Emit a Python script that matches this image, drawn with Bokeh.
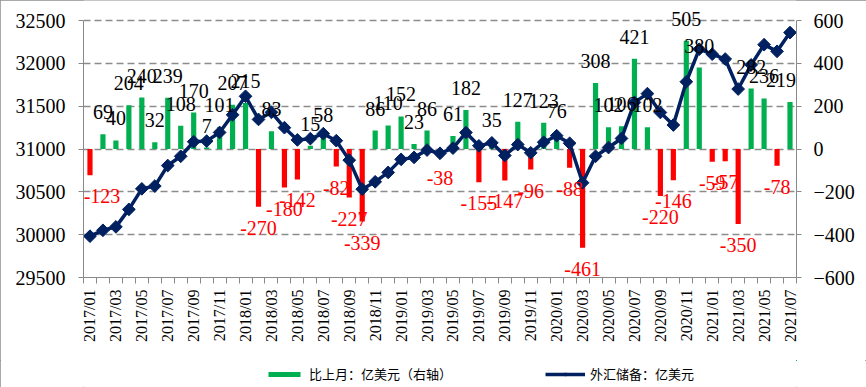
import math
from bokeh.plotting import figure
from bokeh.layouts import column
from bokeh.models import (ColumnDataSource, Range1d, LinearAxis, FixedTicker,
                          CustomJSTickFormatter, LabelSet, Legend, LegendItem)
from bokeh.core.properties import value
from bokeh.embed import file_html
from bokeh.resources import INLINE

months = [
    "2017/01", "2017/02", "2017/03", "2017/04", "2017/05", "2017/06",
    "2017/07", "2017/08", "2017/09", "2017/10", "2017/11", "2017/12",
    "2018/01", "2018/02", "2018/03", "2018/04", "2018/05", "2018/06",
    "2018/07", "2018/08", "2018/09", "2018/10", "2018/11", "2018/12",
    "2019/01", "2019/02", "2019/03", "2019/04", "2019/05", "2019/06",
    "2019/07", "2019/08", "2019/09", "2019/10", "2019/11", "2019/12",
    "2020/01", "2020/02", "2020/03", "2020/04", "2020/05", "2020/06",
    "2020/07", "2020/08", "2020/09", "2020/10", "2020/11", "2020/12",
    "2021/01", "2021/02", "2021/03", "2021/04", "2021/05", "2021/06",
    "2021/07",
]

# 比上月：亿美元（右轴）
change = [
    -123, 69, 40, 204, 240, 32, 239, 108, 170, 7, 101, 207,
    215, -270, 83, -180, -142, 15, 58, -82, -227, -339, 86, 110,
    152, 23, 86, -38, 61, 182, -155, 35, -147, 127, -96, 123,
    76, -88, -461, 308, 102, 106, 421, 102, -220, -146, 505, 380,
    -59, -57, -350, 282, 236, -78, 219,
]

# 外汇储备：亿美元
reserves = [
    29982, 30051, 30091, 30295, 30535, 30567, 30807, 30915, 31085, 31092, 31193, 31399,
    31615, 31345, 31428, 31249, 31106, 31121, 31179, 31097, 30870, 30531, 30617, 30727,
    30879, 30902, 30988, 30950, 31010, 31192, 31037, 31072, 30924, 31052, 30956, 31079,
    31155, 31067, 30606, 30915, 31017, 31123, 31544, 31646, 31426, 31280, 31785, 32165,
    32107, 32050, 31700, 31982, 32218, 32140, 32359,
]

left_ticks = [29500, 30000, 30500, 31000, 31500, 32000, 32500]
right_ticks = [-600, -400, -200, 0, 200, 400, 600]

GREEN = "#00B050"
RED = "#FF0000"
NAVY = "#002060"
AXIS_GRAY = "#898989"

# layout in pixels
FRAME_TOP_PAD = 20      # px of free space above the top gridline (inside frame)
AXIS_SPAN = 257         # px between top and bottom gridline
pad_frac = FRAME_TOP_PAD / AXIS_SPAN

n = len(months)
xs = list(range(n))
pos_x = [i for i in xs if change[i] >= 0]
pos_v = [change[i] for i in pos_x]
neg_x = [i for i in xs if change[i] < 0]
neg_v = [change[i] for i in neg_x]


def label_shift(i):
    # keep edge labels inside the plotting frame
    if i == 0:
        return 12
    if i == n - 1:
        return -9
    return 0


l_lo, l_hi = left_ticks[0], left_ticks[-1]
r_lo, r_hi = right_ticks[0], right_ticks[-1]

p = figure(width=866, height=360, output_backend="svg", toolbar_location=None,
           x_range=Range1d(-0.5, n - 0.5),
           y_range=Range1d(l_lo, l_hi + (l_hi - l_lo) * pad_frac),
           min_border_left=83, min_border_right=70, min_border_top=0,
           min_border_bottom=83)
p.extra_y_ranges = {"right": Range1d(r_lo, r_hi + (r_hi - r_lo) * pad_frac)}
p.outline_line_color = None
p.background_fill_color = "white"
p.border_fill_color = "white"

# axes
left_ticker = FixedTicker(ticks=left_ticks, minor_ticks=[])
p.yaxis.ticker = left_ticker
p.yaxis.bounds = (l_lo, l_hi)
p.ygrid.ticker = left_ticker
p.ygrid.grid_line_color = "#8c8c8c"
p.ygrid.grid_line_width = 1.6
p.ygrid.grid_line_dash = "7 4"
p.xgrid.visible = False

right_axis = LinearAxis(y_range_name="right", bounds=(r_lo, r_hi),
                        ticker=FixedTicker(ticks=right_ticks, minor_ticks=[]))
p.add_layout(right_axis, "right")

for ax in [p.yaxis[0], right_axis]:
    ax.axis_line_color = AXIS_GRAY
    ax.major_tick_line_color = AXIS_GRAY
    ax.major_tick_out = 5
    ax.major_tick_in = 0
    ax.minor_tick_line_color = None
    ax.major_label_text_font = "Liberation Serif"
    ax.major_label_text_font_size = "20px"
    ax.major_label_text_color = "black"
p.yaxis[0].major_label_standoff = 13
right_axis.major_label_standoff = 12

xax = p.xaxis[0]
xax.ticker = FixedTicker(ticks=xs[::2], minor_ticks=[i - 0.5 for i in range(n + 1)])
xax.formatter = CustomJSTickFormatter(args=dict(labels=months), code="""
    const i = Math.round(tick);
    return (i >= 0 && i < labels.length) ? labels[i] : '';
""")
xax.axis_line_color = AXIS_GRAY
xax.major_tick_line_color = None
xax.major_tick_out = 6
xax.major_tick_in = 0
xax.minor_tick_line_color = AXIS_GRAY
xax.minor_tick_out = 6
xax.minor_tick_in = 0
xax.major_label_orientation = math.pi / 2
xax.major_label_standoff = 6
xax.major_label_text_font = "Liberation Serif"
xax.major_label_text_font_size = "16px"
xax.major_label_text_color = "black"

# bars
pos_src = ColumnDataSource(dict(x=pos_x, v=pos_v, t=[str(v) for v in pos_v],
                                dx=[label_shift(i) for i in pos_x]))
neg_src = ColumnDataSource(dict(x=neg_x, v=neg_v, t=[str(v) for v in neg_v],
                                dx=[label_shift(i) for i in neg_x]))
bar_pos = p.vbar(x="x", top="v", bottom=0, width=0.4, source=pos_src,
                 y_range_name="right", fill_color=GREEN, line_color=None)
bar_neg = p.vbar(x="x", top="v", bottom=0, width=0.4, source=neg_src,
                 y_range_name="right", fill_color=RED, line_color=None)

# line
line_src = ColumnDataSource(dict(x=xs, r=reserves))
line_r = p.line(x="x", y="r", source=line_src, line_color=NAVY, line_width=3.5)
mark_r = p.scatter(x="x", y="r", source=line_src, marker="square", angle=math.pi / 4,
                   size=9, fill_color=NAVY, line_color=NAVY)

# data labels
lab_pos = LabelSet(x="x", y="v", text="t", source=pos_src, y_range_name="right",
                   text_align="center", text_baseline="alphabetic", y_offset=15,
                   x_offset="dx",
                   text_font=value("Liberation Serif"), text_font_size="20px",
                   text_color="black")
lab_neg = LabelSet(x="x", y="v", text="t", source=neg_src, y_range_name="right",
                   text_align="center", text_baseline="alphabetic", y_offset=-28,
                   x_offset="dx",
                   text_font=value("Liberation Serif"), text_font_size="20px",
                   text_color=RED)
p.add_layout(lab_pos)
p.add_layout(lab_neg)

# legend strip below the chart (its renderers use the same data, outside its view)
q = figure(width=866, height=27, output_backend="svg", toolbar_location=None,
           x_range=Range1d(-1000, -999), y_range=Range1d(-1000, -999),
           x_axis_location=None, y_axis_location=None,
           min_border_left=83, min_border_right=70, min_border_top=0, min_border_bottom=0)
q.outline_line_color = None
q.grid.visible = False
q.background_fill_color = "white"
q.border_fill_color = "white"
lg_bar = q.vbar(x="x", top="v", bottom=0, width=0.4, source=pos_src,
                fill_color=GREEN, line_color=None)
lg_line = q.line(x="x", y="r", source=line_src, line_color=NAVY, line_width=3.5)
lg_mark = q.scatter(x="x", y="r", source=line_src, marker="square", angle=math.pi / 4,
                    size=9, fill_color=NAVY, line_color=NAVY)

legend = Legend(items=[
    LegendItem(label="比上月：亿美元（右轴）", renderers=[lg_bar]),
    LegendItem(label="外汇储备：亿美元", renderers=[lg_line, lg_mark]),
], orientation="horizontal", location=(181, 4), glyph_width=40, glyph_height=6,
    label_standoff=5, spacing=93, padding=0, margin=0, border_line_color=None,
    background_fill_alpha=0, label_text_font="Noto Sans CJK SC",
    label_text_font_size="13px", label_text_color="black")
q.add_layout(legend)

layout = column(p, q, spacing=0)
layout.styles = {"outline": "1px solid #8c8c8c", "outline-offset": "-1px"}

open("out.html", "w").write(file_html(layout, INLINE))
